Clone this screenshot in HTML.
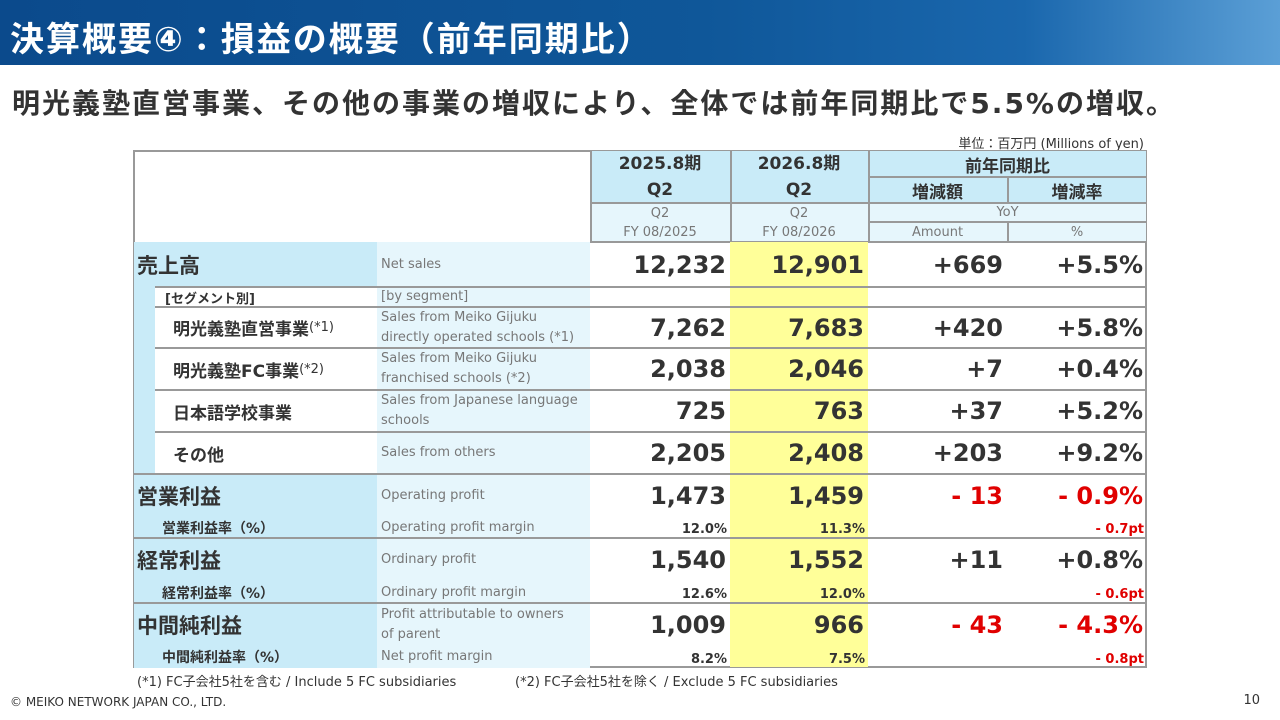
<!DOCTYPE html>
<html><head><meta charset="utf-8">
<style>
*{margin:0;padding:0;box-sizing:border-box}
body{width:1280px;height:720px;background:#fff;position:relative;overflow:hidden;font-family:"DejaVu Sans","Noto Sans CJK JP",sans-serif;color:#333}
.a{position:absolute}
.c{position:absolute;display:flex;align-items:center;white-space:nowrap}
.n{justify-content:flex-end;padding-right:4px;font-weight:bold;font-size:24px;color:#333}
.m{justify-content:flex-end;padding-right:3px;font-weight:bold;font-size:13px;color:#333}
.en{font-size:13px;color:#777;padding-left:4px;padding-right:10px;line-height:20px;white-space:normal}
.red{color:#e00000}
.hl{position:absolute;background:#999;height:2px}
.vl{position:absolute;background:#aaa;width:1px}
</style></head><body>
<div class="a" style="left:0;top:0;width:1280px;height:65px;background:linear-gradient(90deg,#0b4a8c 0%,#0f5799 55%,#1a67ad 80%,#5b9fd6 100%)"></div>
<div class="a" style="left:10px;top:12px;font-size:34px;font-weight:bold;color:#fff;letter-spacing:2px;white-space:nowrap">決算概要④：損益の概要（前年同期比）</div>
<div class="a" style="left:12px;top:82px;font-size:28px;font-weight:bold;color:#333;letter-spacing:2px;white-space:nowrap">明光義塾直営事業、その他の事業の増収により、全体では前年同期比で5.5%の増収。</div>
<div class="a" style="right:136px;top:133px;font-size:13px;color:#333">単位：百万円 (Millions of yen)</div>

<div id="tbl"></div>

<div class="a" style="left:137px;top:671px;font-size:13px;color:#333">(*1) FC子会社5社を含む / Include 5 FC subsidiaries</div>
<div class="a" style="left:515px;top:671px;font-size:13px;color:#333">(*2) FC子会社5社を除く / Exclude 5 FC subsidiaries</div>
<div class="a" style="left:10px;top:695px;font-size:12px;color:#333">© MEIKO NETWORK JAPAN CO., LTD.</div>
<div class="a" style="right:20px;top:693px;font-size:13px;color:#333">10</div>

<script>
const labelsJP=["売上高","[セグメント別]","明光義塾直営事業","明光義塾FC事業","日本語学校事業","その他","営業利益","営業利益率（%）","経常利益","経常利益率（%）","中間純利益","中間純利益率（%）"];
const labelsEN=["Net sales","[by segment]","Sales from Meiko Gijuku directly operated schools (*1)","Sales from Meiko Gijuku franchised schools (*2)","Sales from Japanese language schools","Sales from others","Operating profit","Operating profit margin","Ordinary profit","Ordinary profit margin","Profit attributable to owners of parent","Net profit margin"];
const prev=["12,232","","7,262","2,038","725","2,205","1,473","12.0%","1,540","12.6%","1,009","8.2%"];
const curr=["12,901","","7,683","2,046","763","2,408","1,459","11.3%","1,552","12.0%","966","7.5%"];
const amt=["+669","","+420","+7","+37","+203","- 13","","+11","","- 43",""];
const pct=["+5.5%","","+5.8%","+0.4%","+5.2%","+9.2%","- 0.9%","- 0.7pt","+0.8%","- 0.6pt","- 4.3%","- 0.8pt"];
const kinds=["main","seg","sub","sub","sub","sub","main","margin","main","margin","main","margin"];
const rowTop=[242,287,307,348,390,432,474,517,538,582,603,646,668];
const X=[133,377,590,730,868,1007,1147];
const T=document.getElementById('tbl');
function d(cls,st,txt){const e=document.createElement('div');e.className=cls;e.setAttribute('style',st);if(txt!==undefined)e.innerHTML=txt;T.appendChild(e);return e;}
let e;
e=d('a',`left:${X[0]}px;top:150px;width:${X[6]-X[0]}px;height:518px;border:2px solid #999`);

e=d('a',`left:590px;top:151px;width:556px;height:52px;background:#c9ebf8`);

e=d('a',`left:590px;top:203px;width:556px;height:39px;background:#e6f6fc`);

const hdr=[["2025.8期<br>Q2",590,730,"header-2025"],["2026.8期<br>Q2",730,868,"header-2026"]];
hdr.forEach(h=>{e=d('c',`left:${h[1]}px;top:151px;width:${h[2]-h[1]}px;height:52px;justify-content:center;text-align:center;font-weight:bold;font-size:17px;line-height:26px`,h[0]);
});
e=d('c',`left:868px;top:151px;width:279px;height:26px;justify-content:center;font-weight:bold;font-size:17px`,"前年同期比");

e=d('c',`left:868px;top:177px;width:139px;height:26px;justify-content:center;font-weight:bold;font-size:17px`,"増減額");

e=d('c',`left:1007px;top:177px;width:140px;height:26px;justify-content:center;font-weight:bold;font-size:17px`,"増減率");

[["Q2<br>FY 08/2025",590,730],["Q2<br>FY 08/2026",730,868]].forEach(h=>{e=d('c',`left:${h[1]}px;top:203px;width:${h[2]-h[1]}px;height:39px;justify-content:center;text-align:center;font-size:13px;color:#777;line-height:19px`,h[0]);
});
e=d('c',`left:868px;top:203px;width:279px;height:19px;justify-content:center;font-size:13px;color:#777`,"YoY");

e=d('c',`left:868px;top:222px;width:139px;height:20px;justify-content:center;font-size:13px;color:#777`,"Amount");

e=d('c',`left:1007px;top:222px;width:140px;height:20px;justify-content:center;font-size:13px;color:#777`,"%");

[[590,868,203],[868,1147,177],[868,1147,203],[868,1147,222],[590,1147,242]].forEach(l=>{e=d('hl',`left:${l[0]}px;top:${l[2]-1}px;width:${l[1]-l[0]}px`);});
[[590,151,242],[730,151,242],[868,151,242],[1007,177,203],[1007,222,242]].forEach(l=>{e=d('vl',`left:${l[0]}px;top:${l[1]}px;height:${l[2]-l[1]}px;width:2px;background:#999`);});
e=d('a',`left:730px;top:242px;width:138px;height:425px;background:#ffff99`);

for(let i=0;i<labelsJP.length;i++){
  const y=rowTop[i],h=rowTop[i+1]-y,k=kinds[i];
  const isSub=(k==="seg"||k==="sub");
  e=d('a',`left:134px;top:${y}px;width:${isSub?21:243}px;height:${h}px;background:#c9ebf8`);
  
  e=d('a',`left:377px;top:${y}px;width:213px;height:${h}px;background:#e6f6fc`);
  
  let st,pl;
  if(k==="main"){st="font-size:21px;font-weight:bold;color:#333";pl=137;}
  else if(k==="seg"){st="font-size:13px;font-weight:bold;color:#333";pl=165;}
  else if(k==="sub"){st="font-size:17px;font-weight:bold;color:#333";pl=173;}
  else {st="font-size:14px;font-weight:bold;color:#333";pl=162;}
  let jp=labelsJP[i];
  if(i===2) jp+='<span style="font-weight:normal;font-size:13px">(*1)</span>';
  if(i===3) jp+='<span style="font-weight:normal;font-size:13px">(*2)</span>';
  e=d('c',`left:${pl}px;top:${y}px;height:${h}px;${st}`,jp);
  
  e=d('c en',`left:377px;top:${y}px;width:213px;height:${h}px`,labelsEN[i]);
  
  const cls=k==="margin"?"c m":"c n";
  const vals=[prev[i],curr[i],amt[i],pct[i]];
  const names=['value-prev','value-curr','value-change','value-rate'];
  for(let j=0;j<4;j++){
    if(!vals[j])continue;
    const red=vals[j].startsWith('-');
    e=d(cls+(red?' red':''),`left:${X[j+2]}px;top:${y}px;width:${X[j+3]-X[j+2]}px;height:${h}px;${k==="margin"?"align-items:flex-end;padding-bottom:1px":""}`,vals[j]);
    
  }
  if(i>0){
    if(k==="margin")continue;
    const lx=(k==="main")?133:155;
    e=d('hl',`left:${lx}px;top:${y-1}px;width:${1147-lx}px`);
    
  }
}
</script>
</body></html>
